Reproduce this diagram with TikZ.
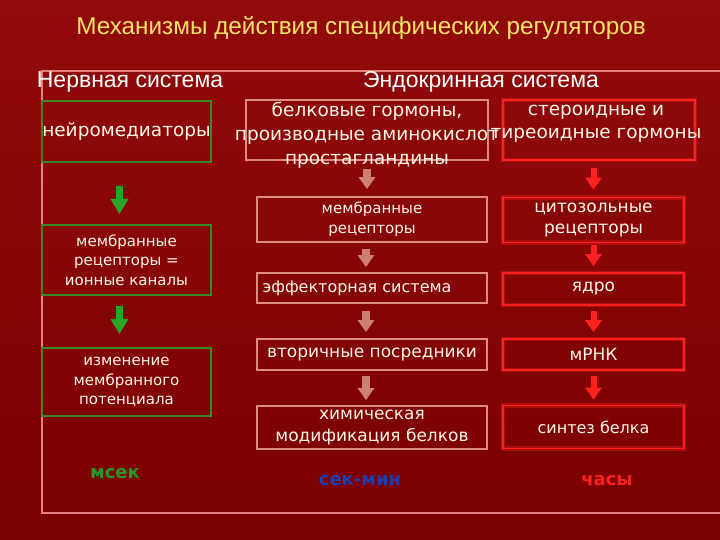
\documentclass[tikz,border=0pt]{standalone}
\usepackage{fontspec}
\setmainfont{Liberation Sans}
\newfontfamily\hand{DejaVu Sans}
\usetikzlibrary{arrows.meta}
\definecolor{bgtop}{RGB}{146,10,10}
\definecolor{bgbot}{RGB}{122,0,0}
\definecolor{framec}{RGB}{228,128,128}
\definecolor{titlec}{RGB}{250,226,105}
\definecolor{txtc}{RGB}{255,246,232}
\definecolor{gboxc}{RGB}{62,135,38}
\definecolor{garrc}{RGB}{40,165,40}
\definecolor{pboxc}{RGB}{222,140,125}
\definecolor{parrc}{RGB}{205,128,112}
\definecolor{rboxc}{RGB}{255,32,32}
\definecolor{bluec}{RGB}{30,62,175}
\definecolor{mseckc}{RGB}{42,150,42}
\tikzset{
  frameline/.style={draw=framec, line width=1.2pt},
  boxbase/.style={inner sep=0pt, align=center, text=txtc},
  gbox/.style={boxbase, draw=gboxc, line width=2pt, minimum width=169pt},
  pbox/.style={boxbase, draw=pboxc, line width=1.8pt, minimum width=230pt},
  rbox/.style={boxbase, draw=rboxc, line width=1.6pt, minimum width=181pt,
    preaction={draw=rboxc, line width=4.5pt, draw opacity=0.35}},
  plaintext/.style={inner sep=0pt, align=center, text=txtc},
  garrow/.style={draw=garrc, line width=7pt, -{Triangle[width=17pt,length=15pt]}},
  parrow/.style={draw=parrc, line width=8pt, -{Triangle[width=16pt,length=12pt]}},
  rarrow/.style={draw=rboxc, line width=6pt, -{Triangle[width=16pt,length=12pt]}},
  head/.style={inner sep=0pt, text=white, font=\fontsize{23}{27}\selectfont},
  timetext/.style={inner sep=0pt, font=\hand\bfseries\fontsize{18}{22}\selectfont}
}
\begin{document}
\begin{tikzpicture}[x=1pt,y=-1pt]
\useasboundingbox (0,0) rectangle (720,540);
\shade[top color=bgtop, bottom color=bgbot] (0,0) rectangle (720,540);

% frame
\draw[frameline] (720,71) -- (42,71) -- (42,513) -- (720,513);

% title and headings
\node[inner sep=0pt, text=titlec, font=\fontsize{24.3}{28}\selectfont] (title) at (361,28) {Механизмы действия специфических регуляторов};
\node[head] (nerv) at (130,82) {Нервная система};
\node[head] (endo) at (481,82) {Эндокринная система};

% left column
\node[gbox, minimum height=61pt, font=\hand\fontsize{18.5}{24}\selectfont] (g1) at (126.5,131.5) {нейромедиаторы};
\node[gbox, minimum height=70pt, font=\hand\fontsize{15}{19.5}\selectfont] (g2) at (126.5,260) {мембранные\\рецепторы =\\ионные каналы};
\node[gbox, minimum height=68pt, font=\hand\fontsize{15}{19.5}\selectfont] (g3) at (126.5,382) {изменение\\мембранного\\потенциала};
\node[timetext, text=mseckc] (msec) at (115,474) {мсек};

% middle column
\node[pbox, minimum width=242pt, minimum height=60pt] (m1) at (367,130) {};
\node[plaintext, font=\hand\fontsize{18.5}{24}\selectfont] (m1t) at (367,135) {белковые гормоны,\\производные аминокислот\\простагландины};
\node[pbox, minimum height=45pt, font=\hand\fontsize{15}{20}\selectfont] (m2) at (372,219.5) {мембранные\\рецепторы};
\node[pbox, minimum height=30pt, font=\hand\fontsize{16}{20}\selectfont] (m3) at (372,288) {\hspace*{-30pt}эффекторная система};
\node[pbox, minimum height=31pt, font=\hand\fontsize{17}{21}\selectfont] (m4) at (372,354.5) {вторичные посредники};
\node[pbox, minimum height=43pt, font=\hand\fontsize{17}{22}\selectfont] (m5) at (372,427.5) {химическая\\модификация белков};
\node[timetext, text=bluec] (secmin) at (360,481) {сек-мин};

% right column
\node[rbox, minimum width=192pt, minimum height=60pt] (r1) at (599,130) {};
\node[plaintext, font=\hand\fontsize{18.5}{23}\selectfont] (r1t) at (596,124) {стероидные и\\тиреоидные гормоны};
\node[rbox, minimum height=45pt, font=\hand\fontsize{17}{21}\selectfont] (r2) at (593.5,220) {цитозольные\\рецепторы};
\node[rbox, minimum height=32pt, font=\hand\fontsize{17}{21}\selectfont] (r3) at (593.5,289) {ядро};
\node[rbox, minimum height=31pt, font=\hand\fontsize{17}{21}\selectfont] (r4) at (593.5,354.5) {мРНК};
\node[rbox, minimum height=43pt, font=\hand\fontsize{16}{21}\selectfont] (r5) at (593.5,427) {синтез белка};
\node[timetext, text=rboxc] (hours) at (607,481) {часы};

% green arrows
\draw[garrow, shorten <=23pt, shorten >=10pt] ([xshift=-7pt]g1.south) -- ([xshift=-7pt]g1.south |- g2.north);
\draw[garrow, shorten <=10pt, shorten >=13pt] ([xshift=-7pt]g2.south) -- ([xshift=-7pt]g2.south |- g3.north);

% pink arrows
\draw[parrow, shorten <=8pt, shorten >=7pt] (m1.south) -- (m1.south |- m2.north);
\draw[parrow, shorten <=6pt, shorten >=5pt] ([xshift=-6pt]m2.south) -- ([xshift=-6pt]m2.south |- m3.north);
\draw[parrow, shorten <=7pt, shorten >=6pt] ([xshift=-6pt]m3.south) -- ([xshift=-6pt]m3.south |- m4.north);
\draw[parrow, shorten <=5pt, shorten >=5pt] ([xshift=-6pt]m4.south) -- ([xshift=-6pt]m4.south |- m5.north);

% red arrows
\draw[rarrow, shorten <=7pt, shorten >=7pt] (r2.north |- r1.south) -- (r2.north);
\draw[rarrow, shorten <=2pt, shorten >=6pt] (r2.south) -- (r3.north);
\draw[rarrow, shorten <=5pt, shorten >=6pt] (r3.south) -- (r4.north);
\draw[rarrow, shorten <=5pt, shorten >=5pt] (r4.south) -- (r5.north);
\end{tikzpicture}
\end{document}
